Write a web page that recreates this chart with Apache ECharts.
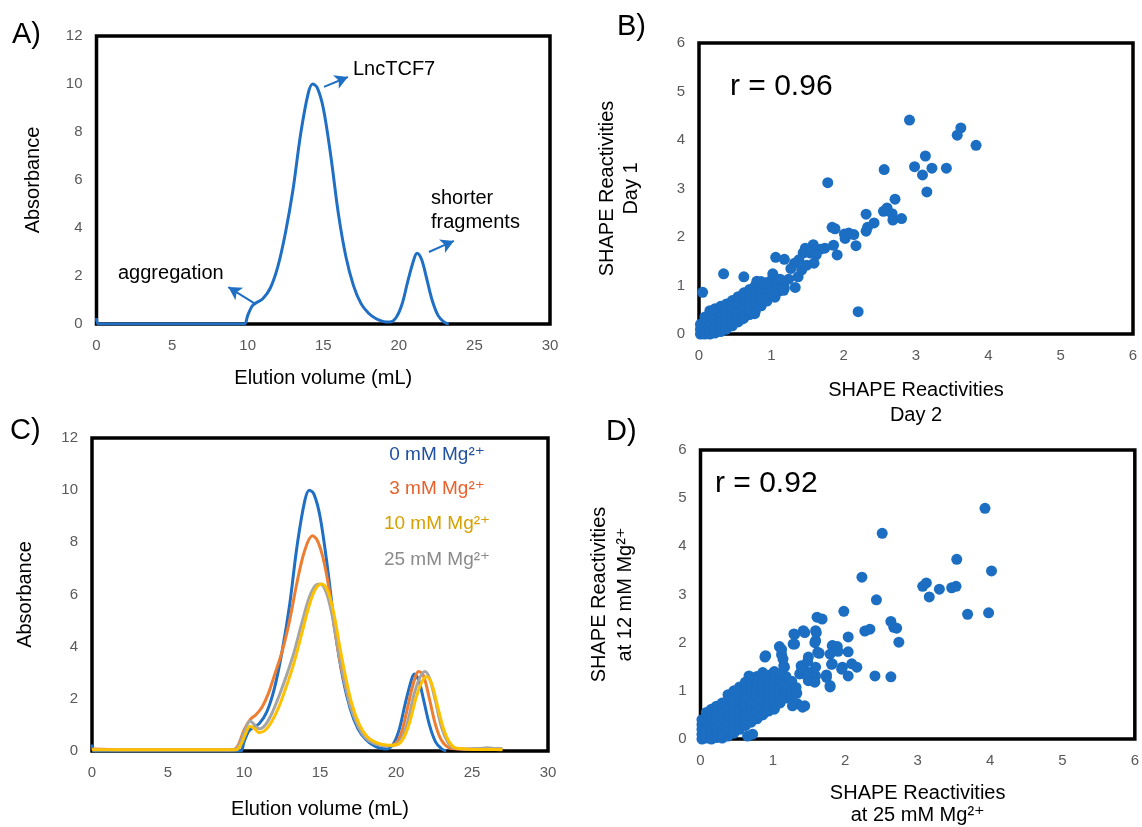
<!DOCTYPE html>
<html><head><meta charset="utf-8">
<script src="https://cdn.jsdelivr.net/npm/echarts/dist/echarts.min.js"></script>
<style>html,body{margin:0;padding:0;background:#fff}#c{width:1142px;height:827px}</style>
</head><body><div id="c"></div><script>
const FONT = "'Liberation Sans', Arial, 'DejaVu Sans', sans-serif";

// Elution profiles [volume mL, absorbance]
const mg0 = [[0,0.25],[0.15,0],[2,0],[4,0],[6,0],[8,0],[9.5,0],[9.8,0],[10.0,0.35],[10.3,0.75],[10.6,0.9],[11.0,1.05],[11.5,1.5],[12.0,2.4],[12.5,3.8],[13.0,5.6],[13.5,7.9],[14.0,9.6],[14.3,10.0],[14.6,9.85],[15.0,9.0],[15.5,7.0],[16.0,4.6],[16.5,2.8],[17.0,1.6],[17.5,0.85],[18.0,0.45],[18.5,0.22],[19.0,0.1],[19.4,0.08],[19.8,0.25],[20.2,0.8],[20.6,1.8],[21.0,2.7],[21.2,2.95],[21.5,2.7],[21.8,2.0],[22.2,1.0],[22.6,0.35],[23.0,0.08],[23.3,0]];
const mg3 = [[0,0.08],[2,0.05],[5,0.05],[8,0.05],[9.3,0.05],[9.6,0.2],[10.0,0.8],[10.4,1.2],[10.8,1.4],[11.2,1.7],[11.6,2.2],[12.0,2.9],[12.5,3.8],[13.0,5.0],[13.5,6.5],[14.0,7.7],[14.5,8.25],[14.8,8.1],[15.2,7.4],[15.6,6.2],[16.0,4.5],[16.5,2.9],[17.0,1.8],[17.5,1.0],[18.0,0.6],[18.5,0.35],[19.0,0.25],[19.5,0.2],[19.9,0.25],[20.3,0.6],[20.7,1.5],[21.1,2.5],[21.5,3.05],[21.8,2.9],[22.2,2.0],[22.6,1.0],[23.0,0.4],[23.5,0.12],[24,0.08],[25,0.07],[26,0.1],[26.5,0.08],[27,0.08]];
const mg25 = [[0,0.05],[2,0.05],[5,0.05],[8,0.05],[9.4,0.05],[9.7,0.25],[10.0,0.7],[10.4,1.15],[10.7,1.0],[11.0,0.85],[11.4,1.0],[11.8,1.4],[12.3,2.1],[12.8,2.9],[13.3,3.8],[13.8,4.9],[14.3,5.9],[14.7,6.35],[15.0,6.4],[15.4,6.1],[15.8,5.2],[16.2,3.9],[16.6,2.7],[17.0,1.7],[17.5,0.95],[18.0,0.5],[18.5,0.3],[19.0,0.22],[19.5,0.2],[20.0,0.25],[20.4,0.5],[20.8,1.2],[21.2,2.2],[21.6,2.85],[21.9,3.05],[22.2,2.8],[22.6,1.9],[23.0,0.9],[23.4,0.35],[23.8,0.12],[24.5,0.08],[25.5,0.1],[26,0.12],[26.5,0.1],[27,0.08]];
const mg10 = [[0,0.05],[2,0.05],[5,0.05],[8,0.05],[9.5,0.05],[9.8,0.25],[10.1,0.65],[10.4,0.95],[10.7,0.85],[11.0,0.7],[11.4,0.8],[11.8,1.1],[12.3,1.7],[12.8,2.5],[13.3,3.4],[13.8,4.5],[14.3,5.6],[14.7,6.2],[15.1,6.4],[15.5,6.15],[15.9,5.3],[16.3,4.0],[16.7,2.8],[17.1,1.8],[17.6,1.0],[18.1,0.55],[18.6,0.35],[19.1,0.25],[19.6,0.22],[20.1,0.25],[20.5,0.5],[20.9,1.1],[21.3,2.0],[21.7,2.65],[22.0,2.85],[22.3,2.65],[22.7,1.8],[23.1,0.9],[23.5,0.35],[23.9,0.12],[24.5,0.08],[25.5,0.06],[26.5,0.06],[27,0.05]];

// Annotation arrows in panel A [x1,y1,x2,y2] (data units)
const arrowsA = [[15.05,9.88,16.63,10.29],[21.99,3.0,23.64,3.46],[10.53,0.83,8.72,1.54]];

// SHAPE reactivities panel B: [Day 2, Day 1] — dense band near origin
const shapeDayDense = [
 [0.02,0.0],[0.02,0.1],[0.02,0.2],
 [0.08,0.0],[0.08,0.12],[0.08,0.25],[0.08,0.35],
 [0.15,0.0],[0.15,0.12],[0.15,0.25],[0.15,0.38],[0.15,0.48],
 [0.22,0.02],[0.22,0.15],[0.22,0.28],[0.22,0.41],[0.22,0.52],
 [0.3,0.05],[0.3,0.18],[0.3,0.31],[0.3,0.44],[0.3,0.57],
 [0.38,0.1],[0.38,0.23],[0.38,0.36],[0.38,0.49],[0.38,0.62],
 [0.46,0.17],[0.46,0.3],[0.46,0.43],[0.46,0.56],[0.46,0.69],
 [0.54,0.25],[0.54,0.38],[0.54,0.51],[0.54,0.64],[0.54,0.77],
 [0.62,0.33],[0.62,0.46],[0.62,0.59],[0.62,0.72],[0.62,0.85],
 [0.7,0.4],[0.7,0.53],[0.7,0.66],[0.7,0.79],[0.7,0.92],
 [0.78,0.48],[0.78,0.61],[0.78,0.74],[0.78,0.87],[0.78,1.0],
 [0.86,0.58],[0.86,0.71],[0.86,0.84],[0.86,0.97],[0.86,1.08],
 [0.94,0.68],[0.94,0.81],[0.94,0.94],[0.94,1.06],
 [1.02,0.78],[1.02,0.91],[1.02,1.04],[1.02,1.16],
 [1.1,0.88],[1.1,1.0],[1.1,1.12],
 [1.18,0.95],[1.18,1.08]];
// scattered points of panel B
const shapeDaySparse = [[2.91,4.41],[3.62,4.25],[3.57,4.10],[3.83,3.89],[2.56,3.39],[3.13,3.67],[2.98,3.45],[3.22,3.42],[3.09,3.28],[3.42,3.42],[3.15,2.93],[1.78,3.12],[2.71,2.78],[2.31,2.47],[2.42,2.29],[2.31,2.12],[2.55,2.53],[2.60,2.60],[2.67,2.48],[2.68,2.35],[2.80,2.38],[2.33,2.20],[1.84,2.20],[1.88,2.17],[2.01,2.06],[2.02,1.97],[2.07,2.08],[2.14,2.05],[2.17,1.82],[1.91,1.63],[1.86,1.83],[1.74,1.77],[1.68,1.75],[1.58,1.84],[1.47,1.77],[1.44,1.67],[1.54,1.67],[1.62,1.63],[1.38,1.53],[1.32,1.46],[1.27,1.35],[1.37,1.18],[1.42,1.32],[1.49,1.42],[1.59,1.46],[1.06,1.58],[1.18,1.54],[1.33,0.96],[0.34,1.24],[0.62,1.18],[0.05,0.86],[2.20,0.46],[1.02,1.24],[1.05,0.76],[1.17,0.90],[0.80,1.09],[0.92,1.04],[1.24,1.13],[1.09,1.04],[1.12,1.13],[0.77,0.42],[0.60,0.31]];

// SHAPE reactivities panel D: [25 mM, 12 mM] — dense wedge near origin
const shapeMgDense = [
 [0.02,0.0],[0.02,0.1],[0.02,0.2],[0.02,0.3],[0.02,0.4],
 [0.08,0.02],[0.08,0.15],[0.08,0.28],[0.08,0.42],[0.08,0.55],
 [0.15,0.0],[0.15,0.12],[0.15,0.25],[0.15,0.38],[0.15,0.5],[0.15,0.62],
 [0.22,0.03],[0.22,0.15],[0.22,0.28],[0.22,0.42],[0.22,0.55],[0.22,0.68],
 [0.3,0.02],[0.3,0.15],[0.3,0.3],[0.3,0.45],[0.3,0.6],[0.3,0.75],
 [0.38,0.06],[0.38,0.2],[0.38,0.35],[0.38,0.5],[0.38,0.65],[0.38,0.8],[0.38,0.92],
 [0.46,0.12],[0.46,0.27],[0.46,0.42],[0.46,0.57],[0.46,0.72],[0.46,0.87],[0.46,1.0],
 [0.54,0.2],[0.54,0.35],[0.54,0.5],[0.54,0.65],[0.54,0.8],[0.54,0.95],[0.54,1.08],
 [0.62,0.28],[0.62,0.42],[0.62,0.57],[0.62,0.72],[0.62,0.87],[0.62,1.02],[0.62,1.18],
 [0.7,0.35],[0.7,0.5],[0.7,0.65],[0.7,0.8],[0.7,0.95],[0.7,1.1],[0.7,1.26],
 [0.78,0.42],[0.78,0.57],[0.78,0.72],[0.78,0.87],[0.78,1.02],[0.78,1.17],[0.78,1.3],
 [0.86,0.5],[0.86,0.65],[0.86,0.8],[0.86,0.95],[0.86,1.1],[0.86,1.25],[0.86,1.38],
 [0.94,0.58],[0.94,0.72],[0.94,0.87],[0.94,1.02],[0.94,1.17],[0.94,1.32],
 [1.02,0.65],[1.02,0.8],[1.02,0.95],[1.02,1.1],[1.02,1.25],[1.02,1.4],
 [1.1,0.75],[1.1,0.9],[1.1,1.05],[1.1,1.2],[1.1,1.35],
 [1.18,0.85],[1.18,1.0],[1.18,1.15],[1.18,1.3],
 [1.26,0.9],[1.26,1.05],[1.26,1.2]];
// scattered points of panel D
const shapeMgSparse = [[3.93,4.79],[2.51,4.27],[3.54,3.73],[4.02,3.49],[2.23,3.36],[3.07,3.17],[3.12,3.24],[3.30,3.11],[3.16,2.95],[3.47,3.14],[3.53,3.17],[2.43,2.89],[3.69,2.59],[3.98,2.62],[1.98,2.65],[1.61,2.53],[1.68,2.49],[2.63,2.44],[2.67,2.32],[2.71,2.30],[2.27,2.24],[2.34,2.28],[2.74,2.01],[1.29,2.18],[1.42,2.25],[1.59,2.25],[2.04,2.12],[1.09,1.92],[1.28,1.97],[1.59,2.04],[1.82,1.94],[1.89,1.92],[2.04,1.81],[0.90,1.73],[1.12,1.75],[1.49,1.70],[1.64,1.78],[1.79,1.76],[1.82,1.56],[2.09,1.56],[2.16,1.49],[1.96,1.49],[1.74,1.33],[2.04,1.31],[2.41,1.31],[2.63,1.29],[1.79,1.11],[1.39,1.52],[1.37,1.35],[1.44,1.42],[1.52,1.38],[1.59,1.31],[1.57,1.19],[1.49,1.21],[1.59,1.49],[1.15,1.52],[1.32,1.07],[1.33,0.95],[1.27,0.69],[1.44,0.69],[1.34,0.73],[1.02,0.62],[0.90,0.57],[1.09,1.35],[0.99,1.35],[0.90,1.31],[0.67,1.31],[0.50,1.00],[0.89,1.70],[1.12,1.86],[1.30,2.17],[1.44,2.21],[1.60,2.21],[1.30,1.97],[1.14,1.66],[1.16,1.49],[1.58,2.0],[1.62,1.8],[1.48,1.61],[1.40,1.45],[1.47,1.31],[1.58,1.18],[1.74,1.28],[1.79,1.08],[1.83,1.93],[1.90,1.82],[1.81,1.55],[1.95,1.45],[0.72,0.10],[0.65,0.06],[1.41,0.66]];

const legendC = ['0 mM Mg²⁺','3 mM Mg²⁺','10 mM Mg²⁺','25 mM Mg²⁺'];
const lineColors = ['#1f6fc4','#ed7d31','#ffc000','#a5a5a5'];
const legendColors = ['#1f4f9e','#e8612c','#d6a000','#8a8a8a'];

const BLUE = '#1b6ec2';
const tickLabel = {color:'#595959', fontSize:15, fontFamily:FONT};
const nameStyle = (lh) => ({color:'#000', fontSize:20, fontFamily:FONT, lineHeight:lh||22});

function xAxis(g, max, interval, name, gap, lh){
  return {type:'value', gridIndex:g, min:0, max:max, interval:interval,
    name:name, nameLocation:'middle', nameGap:gap, nameTextStyle:nameStyle(lh),
    axisLine:{show:false}, axisTick:{show:false}, splitLine:{show:false},
    axisLabel:Object.assign({margin:14, showMinLabel:true, showMaxLabel:true}, tickLabel)};
}
function yAxis(g, max, interval, name, gap, lh){
  return {type:'value', gridIndex:g, min:0, max:max, interval:interval,
    name:name, nameLocation:'middle', nameGap:gap, nameRotate:90, nameTextStyle:nameStyle(lh),
    axisLine:{show:false}, axisTick:{show:false}, splitLine:{show:false},
    axisLabel:Object.assign({margin:14, showMinLabel:true, showMaxLabel:true}, tickLabel)};
}
const gridBase = {show:true, borderColor:'#000', borderWidth:3.5, backgroundColor:'#fff', containLabel:false};

function txt(text, x, y, size, color, align){
  return {type:'text', x:x, y:y, silent:true, z:100,
    style:{text:text, font:size+'px '+FONT, fill:color||'#000', textAlign:align||'left', align:align||'left', textVerticalAlign:'middle', verticalAlign:'middle'}};
}

const lineSeries = (name, data, color, xi, w) => ({
  type:'line', name:name, xAxisIndex:xi, yAxisIndex:xi, data:data, smooth:0.35, showSymbol:false,
  lineStyle:{color:color, width:w||3}, itemStyle:{color:color}, clip:true
});
const scatterSeries = (data, xi) => ({
  type:'scatter', xAxisIndex:xi, yAxisIndex:xi, data:data, symbolSize:11,
  itemStyle:{color:BLUE, opacity:1}
});

const chart = echarts.init(document.getElementById('c'), null, {renderer:'canvas'});
chart.setOption({
  animation:false,
  backgroundColor:'#fff',
  grid:[
    Object.assign({left:96.5, top:36, width:453.5, height:288}, gridBase),
    Object.assign({left:699, top:43, width:434, height:291}, gridBase),
    Object.assign({left:92, top:438, width:456, height:313}, gridBase),
    Object.assign({left:700.5, top:450, width:435, height:290}, gridBase)
  ],
  xAxis:[
    xAxis(0, 30, 5, 'Elution volume (mL)', 43),
    xAxis(1, 6, 1, 'SHAPE Reactivities\nDay 2', 44, 25),
    xAxis(2, 30, 5, 'Elution volume (mL)', 47),
    xAxis(3, 6, 1, 'SHAPE Reactivities\nat 25 mM Mg²⁺', 43, 22)
  ],
  yAxis:[
    yAxis(0, 12, 2, 'Absorbance', 52),
    yAxis(1, 6, 1, 'SHAPE Reactivities\nDay 1', 56, 24),
    yAxis(2, 12, 2, 'Absorbance', 56),
    yAxis(3, 6, 1, 'SHAPE Reactivities\nat 12 mM Mg²⁺', 62, 26)
  ],
  series:[
    Object.assign(lineSeries('A', mg0, lineColors[0], 0), {
      markLine:{silent:true, animation:false, symbol:['none','arrow'], symbolSize:[11,13],
        label:{show:false}, lineStyle:{color:lineColors[0], width:2, type:'solid'},
        data: arrowsA.map(a => [{coord:[a[0],a[1]]},{coord:[a[2],a[3]]}])}
    }),
    scatterSeries(shapeDayDense, 1),
    scatterSeries(shapeDaySparse, 1),
    lineSeries(legendC[0], mg0, lineColors[0], 2),
    lineSeries(legendC[1], mg3, lineColors[1], 2),
    lineSeries(legendC[3], mg25, lineColors[3], 2),
    lineSeries(legendC[2], mg10, lineColors[2], 2),
    scatterSeries(shapeMgDense, 3),
    scatterSeries(shapeMgSparse, 3)
  ],
  graphic:[
    txt('A)', 12, 35, 29),
    txt('B)', 617, 27, 29),
    txt('C)', 10, 431, 29),
    txt('D)', 606, 432, 29),
    txt('LncTCF7', 353, 69, 20),
    txt('shorter', 431, 198, 20),
    txt('fragments', 431, 222, 20),
    txt('aggregation', 118, 273, 20),
    txt('r = 0.96', 730, 87, 30),
    txt('r = 0.92', 715, 484, 30),
    txt(legendC[0], 437, 455, 19, legendColors[0], 'center'),
    txt(legendC[1], 437, 489, 19, legendColors[1], 'center'),
    txt(legendC[2], 437, 524, 19, legendColors[2], 'center'),
    txt(legendC[3], 437, 560, 19, legendColors[3], 'center')
  ]
});
</script></body></html>
